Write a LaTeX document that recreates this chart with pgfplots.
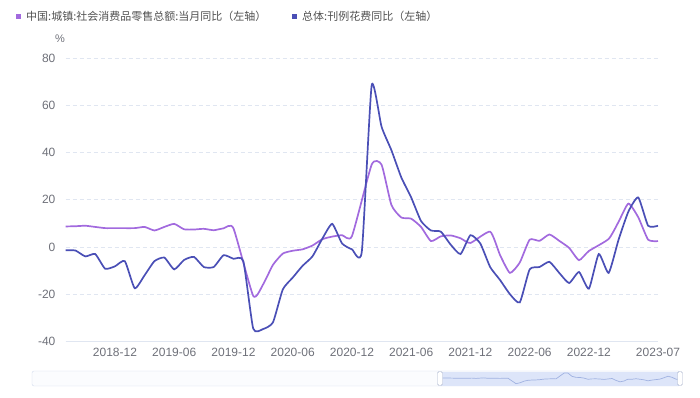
\documentclass[border=0pt]{standalone}
\usepackage{pgfplots}
\pgfplotsset{compat=1.18}
\usepackage{fontspec}
\setmainfont{Liberation Sans}
\newfontfamily\cjk{Noto Sans CJK SC}
\definecolor{purp}{RGB}{162,106,222}
\definecolor{blu}{RGB}{74,79,182}
\definecolor{gridc}{RGB}{224,230,241}
\definecolor{tickc}{RGB}{110,112,121}
\definecolor{legc}{RGB}{80,80,80}
\begin{document}
\begin{tikzpicture}[x=1pt,y=1pt]
\useasboundingbox (0,0) rectangle (700,397);
% legend
\fill[purp] (15.5,378) rectangle (20.5,383);
\node[anchor=west,inner sep=0pt,text=legc] at (26,380.5) {\cjk\fontsize{11pt}{13pt}\selectfont 中国:城镇:社会消费品零售总额:当月同比（左轴）};
\fill[blu] (292,378) rectangle (297,383);
\node[anchor=west,inner sep=0pt,text=legc] at (302,380.5) {\cjk\fontsize{11pt}{13pt}\selectfont 总体:刊例花费同比（左轴）};
\node[text=tickc,inner sep=0pt] at (60,358) {\fontsize{11pt}{13pt}\selectfont \%};
\begin{axis}[
  at={(65.6pt,55.7pt)}, anchor=south west,
  scale only axis, width=592.4pt, height=283pt,
  xmin=6, xmax=66, ymin=-40, ymax=80,
  axis x line*=bottom, axis y line*=left,
  x axis line style={draw=gridc, line width=1pt, -},
  y axis line style={draw=none},
  major tick length=0pt,
  ytick={-40,-20,0,20,40,60,80},
  yticklabels={-40,-20,0,20,40,60,80},
  xtick={11,17,23,29,35,41,47,53,59,66},
  xticklabels={2018-12,2019-06,2019-12,2020-06,2020-12,2021-06,2021-12,2022-06,2022-12,2023-07},
  ymajorgrids,
  grid style={draw=gridc, line width=0.9pt, dash pattern=on 4pt off 3pt},
  tick label style={font=\fontsize{12pt}{14pt}\selectfont, text=tickc},
  yticklabel style={anchor=east, inner sep=0pt, xshift=-10pt},
  xticklabel style={anchor=north, inner sep=0pt, yshift=-6.5pt},
  clip=false,
]
\addplot[purp, line width=1.7pt, smooth, tension=0.32] coordinates {
(6,8.7)(7,8.8)(8,9.0)(9,8.5)(10,8.0)(11,8.0)(13,8.0)(14,8.5)(15,7.0)(16,8.5)(17,9.8)(18,7.5)(19,7.4)(20,7.7)(21,7.1)(22,7.9)(23,7.9)
(25,-20.7)(26,-15.9)(27,-7.6)(28,-2.8)(29,-1.6)(30,-1.0)(31,0.6)(32,3.3)(33,4.4)(34,5.0)(35,4.6)
(37,34.9)(38,34.9)(39,17.8)(40,12.5)(41,12.0)(42,8.5)(43,2.5)(44,4.5)(45,4.9)(46,3.7)(47,1.7)
(49,6.5)(50,-3.4)(51,-11.0)(52,-6.6)(53,3.1)(54,2.6)(55,5.3)(56,2.6)(57,-0.4)(58,-5.6)(59,-1.7)
(61,3.4)(62,10.6)(63,18.4)(64,12.6)(65,3.1)(66,2.5)
};
\addplot[blu, line width=1.7pt, smooth, tension=0.32] coordinates {
(6,-1.4)(7,-1.5)(8,-4)(9,-3)(10,-9.2)(11,-8.2)(12,-6)(13,-17.5)(14,-12)(15,-6)(16,-4.5)(17,-9.5)(18,-5.5)(19,-4.2)(20,-8.5)(21,-8.5)(22,-3.5)(23,-5)(24,-6)
(25,-34.6)(26,-34.8)(27,-32)(28,-18)(29,-13)(30,-8)(31,-4)(32,3.5)(33,9.8)(34,1.5)(35,-1)(36,-2)
(37,68.5)(38,51)(39,41)(40,29.5)(41,21)(42,11)(43,7)(44,6.5)(45,1)(46,-3)(47,5)(48,1.5)
(49,-8.5)(50,-14)(51,-20)(52,-23.5)(53,-9.5)(54,-8.5)(55,-6.3)(56,-11)(57,-15.3)(58,-10.6)(59,-17.7)(60,-3)
(61,-11)(62,3)(63,15)(64,21)(65,9)(66,9)
};
\end{axis}
% data zoom slider
\draw[draw={rgb,255:red,210;green,219;blue,238}, fill={rgb,255:red,251;green,252;blue,254}, rounded corners=2pt] (32,11) rectangle (680,26);
\fill[fill={rgb,255:red,221;green,229;blue,249}] (440,11.5) rectangle (679.5,25.5);
\begin{axis}[
  at={(440pt,12.5pt)}, anchor=south west,
  scale only axis, width=240pt, height=12pt,
  xmin=6, xmax=66, ymin=-25, ymax=38,
  hide axis,
]
\addplot[draw={rgb,255:red,160;green,178;blue,225}, line width=0.7pt] coordinates {
(6,8.7)(7,8.8)(8,9.0)(9,8.5)(10,8.0)(11,8.0)(13,8.0)(14,8.5)(15,7.0)(16,8.5)(17,9.8)(18,7.5)(19,7.4)(20,7.7)(21,7.1)(22,7.9)(23,7.9)
(25,-20.7)(26,-15.9)(27,-7.6)(28,-2.8)(29,-1.6)(30,-1.0)(31,0.6)(32,3.3)(33,4.4)(34,5.0)(35,4.6)
(37,34.9)(38,34.9)(39,17.8)(40,12.5)(41,12.0)(42,8.5)(43,2.5)(44,4.5)(45,4.9)(46,3.7)(47,1.7)
(49,6.5)(50,-3.4)(51,-11.0)(52,-6.6)(53,3.1)(54,2.6)(55,5.3)(56,2.6)(57,-0.4)(58,-5.6)(59,-1.7)
(61,3.4)(62,10.6)(63,18.4)(64,12.6)(65,3.1)(66,2.5)
};
\end{axis}
\draw[draw={rgb,255:red,170;green,180;blue,205}, fill=white, rounded corners=1.5pt] (437.5,11.5) rectangle (442.5,25.5);
\draw[draw={rgb,255:red,170;green,180;blue,205}, fill=white, rounded corners=1.5pt] (677.5,11.5) rectangle (682.5,25.5);
\end{tikzpicture}
\end{document}
